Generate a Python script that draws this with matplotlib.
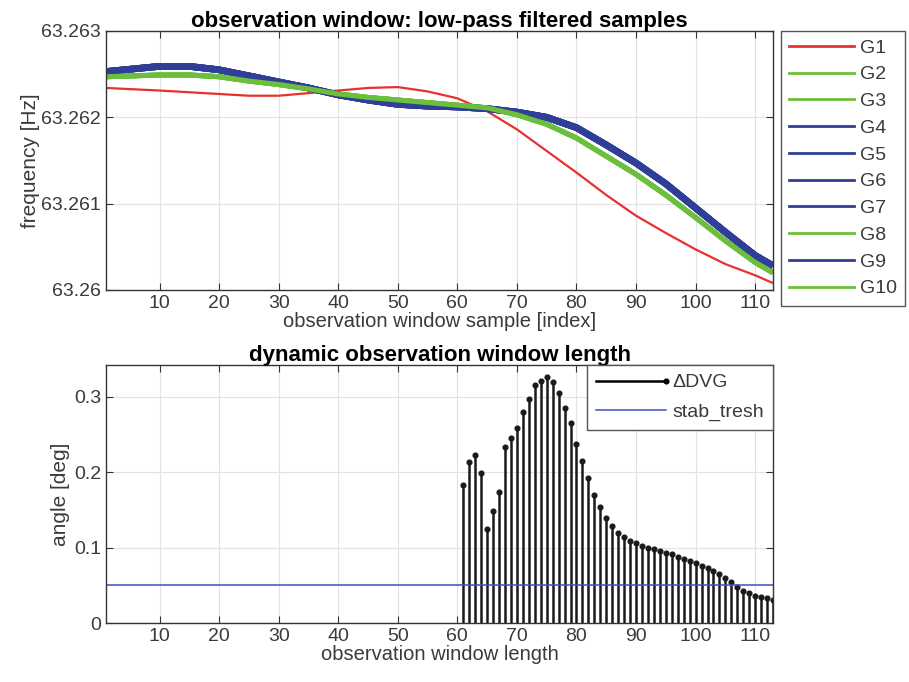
import numpy as np
import matplotlib
matplotlib.use("Agg")
import matplotlib.pyplot as plt
from matplotlib.lines import Line2D
from matplotlib.legend_handler import HandlerLine2D

plt.rcParams['font.family'] = ['Liberation Sans', 'DejaVu Sans']

# top: low-pass filtered samples
idx = [1, 10, 15, 20, 25, 30, 35, 40, 45, 50, 55, 60, 65, 70, 75, 80, 85, 90, 95, 100, 105, 110, 113]
g_red = [63.26234, 63.26231, 63.26229, 63.26227, 63.26225, 63.26225, 63.26228, 63.26231, 63.26234,
         63.26235, 63.26230, 63.26222, 63.26207, 63.26186, 63.26161, 63.26136, 63.26110, 63.26086,
         63.26066, 63.26047, 63.26030, 63.26017, 63.26008]
g_blue = [63.26253, 63.26259, 63.26259, 63.26255, 63.26248, 63.26241, 63.26234, 63.26226, 63.26220,
          63.26215, 63.26213, 63.26212, 63.26210, 63.26206, 63.26200, 63.26188, 63.26168, 63.26147,
          63.26123, 63.26095, 63.26067, 63.26040, 63.26028]
g_green = [63.26247, 63.26249, 63.26249, 63.26247, 63.26242, 63.26238, 63.26233, 63.26227, 63.26223,
           63.26220, 63.26217, 63.26214, 63.26211, 63.26203, 63.26192, 63.26176, 63.26155, 63.26134,
           63.26110, 63.26084, 63.26057, 63.26032, 63.26020]
names = ['G1', 'G2', 'G3', 'G4', 'G5', 'G6', 'G7', 'G8', 'G9', 'G10']
groups = ['r', 'g', 'g', 'b', 'b', 'b', 'b', 'g', 'b', 'g']

# bottom: dynamic window length
win = list(range(61, 114))
dvg = [0.1825, 0.2138, 0.2227, 0.1992, 0.1248, 0.1487, 0.1732, 0.2337, 0.2449, 0.2586,
       0.2802, 0.2975, 0.3153, 0.3214, 0.3263, 0.3197, 0.3055, 0.2855, 0.2648, 0.2377,
       0.2143, 0.1918, 0.1700, 0.1537, 0.1394, 0.1282, 0.1190, 0.1138, 0.1089, 0.1058,
       0.1019, 0.0996, 0.0983, 0.0956, 0.0926, 0.0912, 0.0877, 0.0850, 0.0819, 0.0793,
       0.0762, 0.0726, 0.0687, 0.0643, 0.0598, 0.0550, 0.0478, 0.0430, 0.0394, 0.0364,
       0.0345, 0.0328, 0.0305]
stab_tresh = 0.05

colors = {'r': '#e8302e', 'g': '#6cbf3c', 'b': '#2f3f98'}
series = {'r': g_red, 'g': g_green, 'b': g_blue}
widths = {'r': 1.6, 'g': 3.6, 'b': 4.8}
txt = '#3a3a3a'
fs = 14


class EndMarker(HandlerLine2D):
    def create_artists(self, *args, **kw):
        arts = super().create_artists(*args, **kw)
        arts[0].set_markevery([2])
        return arts


def style(ax):
    ax.grid(True, color='#e2e2e2', linewidth=0.8)
    ax.set_axisbelow(True)
    ax.tick_params(direction='in', top=True, right=True, length=5, labelsize=fs,
                   colors='#333333', labelcolor=txt, pad=3.5)
    for s in ax.spines.values():
        s.set_color('#333333')
        s.set_linewidth(1.0)


fig = plt.figure(figsize=(9.09, 6.82), dpi=100)
ax1 = fig.add_axes([0.1166, 0.5748, 0.7338, 0.3798])
ax2 = fig.add_axes([0.1166, 0.0865, 0.7338, 0.3783])

handles = []
for n, g in zip(names, groups):
    ax1.plot(idx, series[g], color=colors[g], lw=widths[g], solid_capstyle='butt')
    handles.append(Line2D([], [], color=colors[g], lw=2))
ax1.set_xlim(1, 113)
ax1.set_ylim(63.26, 63.263)
ax1.set_xticks(range(10, 111, 10))
ax1.set_yticks([63.26, 63.261, 63.262, 63.263])
ax1.set_yticklabels(['63.26', '63.261', '63.262', '63.263'])
style(ax1)
ax1.set_title('observation window: low-pass filtered samples', fontsize=16,
              fontweight='bold', pad=3)
ax1.set_xlabel('observation window sample [index]', fontsize=14.5, color=txt, labelpad=0)
ax1.set_ylabel('frequency [Hz]', fontsize=15, color=txt, labelpad=1)
leg1 = ax1.legend(handles, names, loc='upper left', bbox_to_anchor=(1.012, 1.0),
                  borderaxespad=0, fontsize=fs, handlelength=3.35, handletextpad=0.3,
                  labelspacing=0.47, fancybox=False, edgecolor='#555555', framealpha=1,
                  borderpad=0.42)
leg1.get_frame().set_linewidth(1.0)
for t in leg1.get_texts():
    t.set_color(txt)

ml, sl, bl = ax2.stem(win, dvg, linefmt='k-', markerfmt='ko', basefmt='k-')
plt.setp(sl, linewidth=1.8, color='#1a1a1a')
plt.setp(ml, markersize=3.4, color='#1a1a1a')
bl.set_visible(False)
ax2.axhline(stab_tresh, color='#4050c0', lw=1.1)
ax2.set_xlim(1, 113)
ax2.set_ylim(0, 0.342)
ax2.set_xticks(range(10, 111, 10))
ax2.set_yticks([0, 0.1, 0.2, 0.3])
ax2.set_yticklabels(['0', '0.1', '0.2', '0.3'])
style(ax2)
ax2.set_title('dynamic observation window length', fontsize=16, fontweight='bold', pad=3)
ax2.set_xlabel('observation window length', fontsize=14.5, color=txt, labelpad=0)
ax2.set_ylabel('angle [deg]', fontsize=15, color=txt, labelpad=3)
h_stem = Line2D([], [], color='k', lw=1.8, marker='o', markersize=3.4)
h_tr = Line2D([], [], color='#4050c0', lw=1.1)
leg2 = ax2.legend([h_stem, h_tr], ['\u0394DVG', 'stab_tresh'], loc='upper right',
                  borderaxespad=0, fontsize=fs, handlelength=3.6, handletextpad=0.35,
                  labelspacing=0.6, fancybox=False, edgecolor='#555555', framealpha=1,
                  borderpad=0.45, handler_map={h_stem: EndMarker(numpoints=1)})
leg2.get_frame().set_linewidth(1.0)
for t in leg2.get_texts():
    t.set_color(txt)

fig.savefig('out.png', dpi=100)
